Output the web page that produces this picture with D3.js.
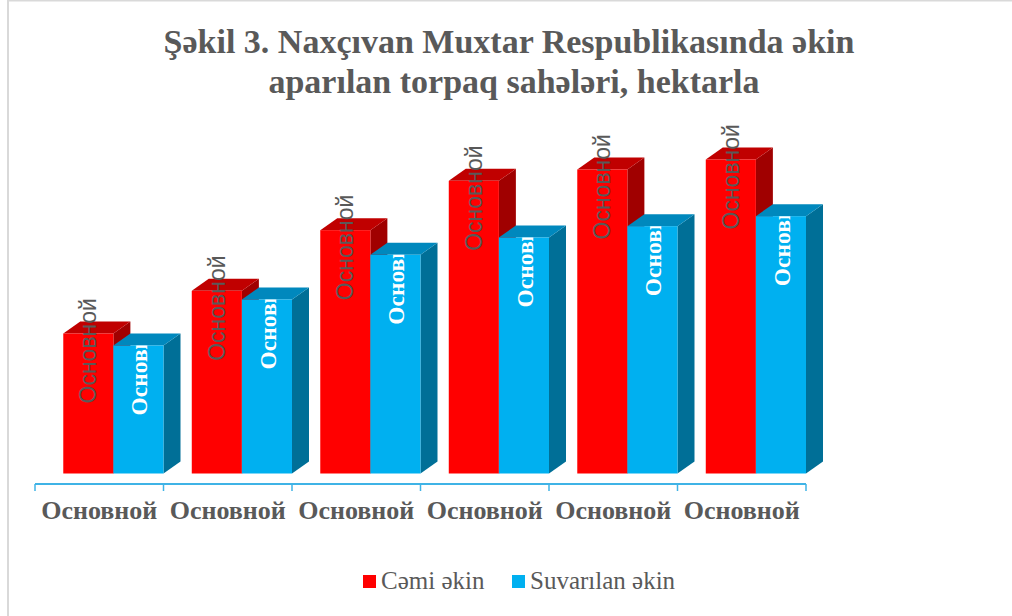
<!DOCTYPE html>
<html>
<head>
<meta charset="utf-8">
<script src="https://cdn.jsdelivr.net/npm/d3@7"></script>
<style>
  body { margin: 0; background: #fff; }
  svg { display: block; }
</style>
</head>
<body>
<svg id="chart"></svg>
<script>
// data (hectares, estimated - no value axis shown)
const categories = ["Основной", "Основной", "Основной", "Основной", "Основной", "Основной"];
const seriesNames = ["Cəmi əkin", "Suvarılan əkin"];
const cemiEkin = [21000, 27400, 36500, 43900, 45600, 47100];
const suvarilanEkin = [19200, 26100, 32800, 35400, 37100, 38600];
const barLabels = ["Основной", "Основной", "Основной", "Основной", "Основной", "Основной"];

const W = 1012, H = 616;
const serif = "Liberation Serif, DejaVu Serif, serif";
const sans = "Liberation Sans, Arial, sans-serif";
const svg = d3.select("#chart").attr("width", W).attr("height", H);

// outer frame (only top and left edge fall inside the picture)
svg.append("rect")
    .attr("x", 8).attr("y", 0.5)
    .attr("width", W + 20).attr("height", H + 20)
    .style("fill", "none")
    .style("stroke", "#d9d9d9")
    .style("stroke-width", 2);

// title
const title = svg.append("text")
    .attr("text-anchor", "middle")
    .attr("font-family", serif)
    .attr("font-weight", "bold")
    .attr("font-size", 34)
    .attr("fill", "#595959");
title.append("tspan").attr("x", 509).attr("y", 53).text("Şəkil 3. Naxçıvan Muxtar Respublikasında əkin");
title.append("tspan").attr("x", 514).attr("y", 93).text("aparılan torpaq sahələri, hektarla");

// scales
const x = d3.scaleBand()
    .domain(d3.range(categories.length))
    .range([35, 806])
    .paddingInner(0).paddingOuter(0);
const y = d3.scaleLinear().domain([0, 60000]).range([473.5, 73.5]);

const step = x.bandwidth();
const barW = step * 0.39;
const offset = step * 0.22;
const depthX = 17, depthY = 12;

const colors = [
    { front: "#ff0000", top: "#c00000", side: "#a00000" },
    { front: "#00b0f0", top: "#0088bd", side: "#006f97" }
];

const groups = categories.map((c, i) => ({ i, values: [cemiEkin[i], suvarilanEkin[i]] }));

const defs = svg.append("defs");
const barsG = svg.append("g");

groups.forEach(g => {
    g.values.forEach((v, s) => {
        const x0 = x(g.i) + offset + s * barW;
        const x1 = x0 + barW;
        const yt = y(v), yb = y(0);
        const col = colors[s];
        const bar = barsG.append("g").attr("class", "bar");

        bar.append("polygon")
            .attr("points", [[x1, yt], [x1 + depthX, yt - depthY], [x1 + depthX, yb - depthY], [x1, yb]].join(" "))
            .style("fill", col.side);
        bar.append("polygon")
            .attr("points", [[x0, yt], [x0 + depthX, yt - depthY], [x1 + depthX, yt - depthY], [x1, yt]].join(" "))
            .style("fill", col.top);
        bar.append("rect")
            .attr("x", x0).attr("y", yt)
            .attr("width", barW).attr("height", yb - yt)
            .style("fill", col.front);

        const cx = x0 + barW / 2;
        if (s === 0) {
            bar.append("text")
                .attr("transform", `translate(${cx + 8},${yt + 70}) rotate(-90)`)
                .attr("font-family", sans)
                .attr("font-size", 23)
                .attr("fill", "#595959")
                .text(barLabels[g.i]);
        } else {
            // white label is cut off at the top of the front face
            const clipId = `clip_${g.i}`;
            defs.append("clipPath").attr("id", clipId)
                .append("rect")
                .attr("x", x0).attr("y", yt)
                .attr("width", barW).attr("height", yb - yt);
            bar.append("g")
                .attr("clip-path", `url(#${clipId})`)
                .append("text")
                .attr("transform", `translate(${cx + 9},${yt + 70}) rotate(-90)`)
                .attr("font-family", serif)
                .attr("font-weight", "bold")
                .attr("font-size", 23.5)
                .attr("fill", "#ffffff")
                .text(barLabels[g.i]);
        }
    });
});

// category axis
const axisColor = "#3fb3e6";
const axisG = svg.append("g").attr("transform", "translate(0,484)");
axisG.call(d3.axisBottom(x).tickSize(0).tickPadding(17).tickFormat(i => categories[i]));
axisG.select(".domain").remove();
axisG.append("line")
    .attr("x1", x.range()[0]).attr("x2", x.range()[1])
    .style("stroke", axisColor).style("stroke-width", 2);
axisG.selectAll(".boundary")
    .data(x.domain().map(d => x(d)).concat([x.range()[1]]))
    .enter().append("line")
    .attr("class", "boundary")
    .attr("x1", d => d).attr("x2", d => d)
    .attr("y1", 0).attr("y2", 7)
    .style("stroke", axisColor).style("stroke-width", 1.5);
axisG.attr("font-family", serif).attr("font-size", 26);
axisG.selectAll(".tick text")
    .attr("font-weight", "bold")
    .attr("fill", "#595959");

// legend
const legendItems = [
    { name: seriesNames[0], color: colors[0].front, x: 363 },
    { name: seriesNames[1], color: colors[1].front, x: 512 }
];
const legend = svg.append("g");
legendItems.forEach(d => {
    legend.append("rect")
        .attr("x", d.x).attr("y", 575)
        .attr("width", 13).attr("height", 13)
        .style("fill", d.color);
    legend.append("text")
        .attr("x", d.x + 18).attr("y", 589)
        .attr("font-family", serif)
        .attr("font-size", 25)
        .attr("fill", "#595959")
        .text(d.name);
});
</script>
</body>
</html>
